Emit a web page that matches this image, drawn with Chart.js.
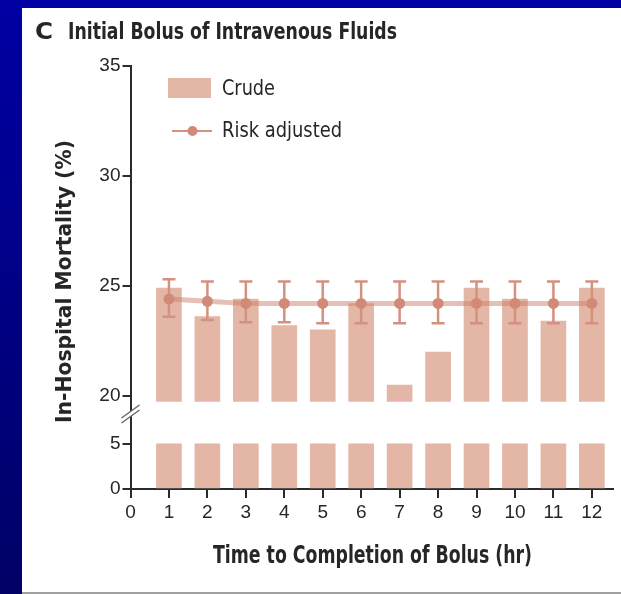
<!DOCTYPE html>
<html><head><meta charset="utf-8">
<script src="https://cdn.jsdelivr.net/npm/chart.js@4.4.1/dist/chart.umd.min.js"></script>
<style>
html,body{margin:0;padding:0;width:621px;height:594px;overflow:hidden;background:linear-gradient(#0000a4,#000066);}
#panel{position:absolute;left:22px;top:8px;width:599px;height:584px;background:#fff;border-bottom:2px solid #a0a0a0;}
#wrap{position:absolute;left:0;top:0;width:621px;height:594px;}
</style></head><body>
<div id="panel"></div>
<div id="wrap"><canvas id="c" width="621" height="594"></canvas></div>
<script>
// ---- data ----
const hours = [1,2,3,4,5,6,7,8,9,10,11,12];
const crude = [24.9,23.6,24.4,23.2,23.0,24.2,20.5,22.0,24.9,24.4,23.4,24.9];
const crudeLowerSegment = [5,5,5,5,5,5,5,5,5,5,5,5];
const riskAdjusted = [24.4,24.3,24.2,24.2,24.2,24.2,24.2,24.2,24.2,24.2,24.2,24.2];
const riskLower = [23.6,23.45,23.35,23.35,23.3,23.3,23.3,23.3,23.3,23.3,23.3,23.3];
const riskUpper = [25.3,25.2,25.2,25.2,25.2,25.2,25.2,25.2,25.2,25.2,25.2,25.2];
const xTicks = [0,1,2,3,4,5,6,7,8,9,10,11,12];
const upperTicks = [20,25,30,35];
const lowerTicks = [0,5];
const upperRange = [19.23, 35];
const lowerRange = [0, 8.4];
const barFloor = 19.75;
const titleLetter = 'C';
const titleText = 'Initial Bolus of Intravenous Fluids';
const xTitle = 'Time to Completion of Bolus (hr)';
const yTitle = 'In-Hospital Mortality (%)';

// ---- styles ----
const BAR = '#e3b6a6';
const PT = '#d18a77';
const ERR = '#d4917f';
const AX = '#2b2b2b';
const TXT = '#262626';
const FAM = '"Liberation Sans Narrow", "DejaVu Sans Condensed", "Liberation Sans", Arial, sans-serif';
const tickFont = {family:'"Liberation Sans", Arial, sans-serif', size:19};

function drawFitted(ctx, text, x, y, w, font, color, rot){
  ctx.save();
  ctx.font = font; ctx.fillStyle = color; ctx.textBaseline = 'alphabetic'; ctx.textAlign = 'left';
  const m = ctx.measureText(text).width;
  ctx.translate(x, y);
  if (rot) ctx.rotate(rot);
  ctx.scale(w / m, 1);
  ctx.fillText(text, 0, 0);
  ctx.restore();
}

const errorBars = {
  id: 'errorBars',
  beforeDatasetDraw(chart, args) {
    if (args.index !== 0) return;
    const ctx = chart.ctx, ys = chart.scales.yTop, xs = chart.scales.x;
    ctx.save();
    ctx.strokeStyle = ERR; ctx.lineWidth = 2.5;
    hours.forEach((h, i) => {
      const px = xs.getPixelForValue(h);
      const t = ys.getPixelForValue(riskUpper[i]);
      const b = ys.getPixelForValue(riskLower[i]);
      ctx.beginPath();
      ctx.moveTo(px, t); ctx.lineTo(px, b);
      ctx.moveTo(px - 6.5, t); ctx.lineTo(px + 6.5, t);
      ctx.moveTo(px - 6.5, b); ctx.lineTo(px + 6.5, b);
      ctx.stroke();
    });
    ctx.restore();
  }
};

const decorations = {
  id: 'decorations',
  afterDraw(chart) {
    const ctx = chart.ctx;
    // axis break marks
    const yb = chart.scales.yTop.bottom, x0 = chart.chartArea.left;
    ctx.save();
    ctx.fillStyle = '#fff';
    ctx.beginPath();
    ctx.moveTo(x0 - 9, yb + 5); ctx.lineTo(x0 + 9, yb - 8);
    ctx.lineTo(x0 + 9, yb - 3); ctx.lineTo(x0 - 9, yb + 10); ctx.closePath();
    ctx.fill();
    ctx.strokeStyle = '#6a6a6a'; ctx.lineWidth = 1.5;
    ctx.beginPath();
    ctx.moveTo(x0 - 9, yb + 5); ctx.lineTo(x0 + 9, yb - 8);
    ctx.moveTo(x0 - 9, yb + 10); ctx.lineTo(x0 + 9, yb - 3);
    ctx.stroke();
    ctx.restore();

    // titles
    drawFitted(ctx, titleLetter, 35, 38.5, 18, 'bold 23px ' + FAM, TXT);
    drawFitted(ctx, titleText, 68, 38.5, 329, 'bold 23px ' + FAM, TXT);
    drawFitted(ctx, xTitle, 213, 563, 319, 'bold 24px ' + FAM, TXT);
    drawFitted(ctx, yTitle, 71, 423, 283, 'bold 22px ' + FAM, TXT, -Math.PI / 2);

    // legend
    const ds = chart.data.datasets;
    ctx.save();
    ctx.fillStyle = BAR;
    ctx.fillRect(168, 78, 43, 20);
    ctx.strokeStyle = ERR; ctx.lineWidth = 2;
    ctx.beginPath(); ctx.moveTo(172, 131); ctx.lineTo(212, 131); ctx.stroke();
    ctx.fillStyle = PT;
    ctx.beginPath(); ctx.arc(192.5, 131, 5, 0, Math.PI * 2); ctx.fill();
    ctx.restore();
    drawFitted(ctx, ds[1].label, 222, 95, 53, '21px ' + FAM, TXT);
    drawFitted(ctx, ds[0].label, 222, 137, 120, '21px ' + FAM, TXT);
  }
};

const yCommon = {
  type: 'linear', position: 'left', stack: 'mort', beginAtZero: false,
  afterFit: s => { s.width = 50; },
  grid: {drawOnChartArea: false, color: AX, lineWidth: 2, tickLength: 8},
  border: {color: AX, width: 2},
  ticks: {font: tickFont, color: TXT, padding: 2}
};

new Chart(document.getElementById('c'), {
  data: {
    datasets: [
      {type: 'line', label: 'Risk adjusted', yAxisID: 'yTop',
       data: hours.map((h, i) => ({x: h, y: riskAdjusted[i]})),
       borderColor: 'rgba(206,128,108,0.5)', borderWidth: 5, tension: 0,
       pointRadius: 5.5, pointHoverRadius: 5.5, pointBackgroundColor: PT, pointBorderWidth: 0, order: 0},
      {type: 'bar', label: 'Crude', yAxisID: 'yTop', grouped: false,
       data: hours.map((h, i) => ({x: h, y: [barFloor, crude[i]]})),
       backgroundColor: BAR, barThickness: 25, order: 1},
      {type: 'bar', label: 'Crude (below axis break)', yAxisID: 'yBottom', grouped: false,
       data: hours.map((h, i) => ({x: h, y: crudeLowerSegment[i]})),
       backgroundColor: BAR, barThickness: 25, order: 2}
    ]
  },
  options: {
    responsive: false, animation: false, events: [],
    layout: {padding: {left: 80.5, right: 8, top: 65.5, bottom: 0}},
    plugins: {legend: {display: false}, tooltip: {enabled: false}, title: {display: false}},
    scales: {
      x: {type: 'linear', position: 'bottom', min: 0, max: 12.55, offset: false,
          afterBuildTicks: s => { s.ticks = xTicks.map(v => ({value: v})); },
          afterFit: s => { s.height = 105; },
          grid: {offset: false, drawOnChartArea: false, color: AX, lineWidth: 2, tickLength: 9},
          border: {color: AX, width: 2},
          ticks: {font: tickFont, color: TXT, padding: 3, maxRotation: 0, autoSkip: false}},
      yBottom: Object.assign({}, yCommon, {min: lowerRange[0], max: lowerRange[1], stackWeight: 76,
          afterBuildTicks: s => { s.ticks = lowerTicks.map(v => ({value: v})); }}),
      yTop: Object.assign({}, yCommon, {min: upperRange[0], max: upperRange[1], stackWeight: 347.5,
          afterBuildTicks: s => { s.ticks = upperTicks.map(v => ({value: v})); }})
    }
  },
  plugins: [errorBars, decorations]
});
</script>
</body></html>
